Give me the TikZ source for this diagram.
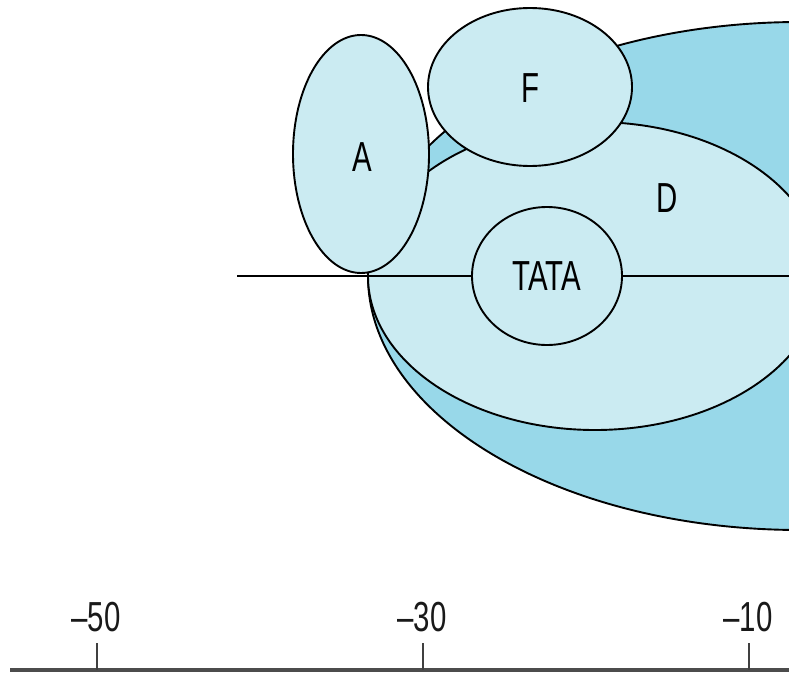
\documentclass[tikz,border=0pt]{standalone}
\usepackage{fontspec}
\newfontfamily\labfont[FakeStretch=0.7]{Liberation Sans}
\usetikzlibrary{shapes.geometric}
\definecolor{lightb}{RGB}{203,235,242}
\definecolor{darkb}{RGB}{152,216,233}
\tikzset{
  blob/.style={ellipse, draw=black, line width=1.9pt, inner sep=0pt, outer sep=0pt},
  lbl/.style={font=\labfont\fontsize{42}{50}\selectfont, inner sep=0pt, text=black},
  numlbl/.style={font=\labfont\fontsize{42}{50}\selectfont, inner sep=0pt, text=black!90},
}
\begin{document}
\begin{tikzpicture}[x=1pt,y=-1pt]
\useasboundingbox (0,0) rectangle (789,674);
\clip (0,0) rectangle (789,674);
% large outer ellipse
\node[blob, fill=darkb, minimum width=864pt, minimum height=508pt] (big) at (800,276) {};
% D
\node[blob, fill=lightb, minimum width=454pt, minimum height=308pt] (D) at (595,276) {};
\node[lbl] (Dl) at (667,198) {D};
% horizontal line
\coordinate (ls) at (237,276);
\coordinate (le) at (795,276);
\draw[line width=1.9pt] (ls) -- (le);
% TATA
\node[blob, fill=lightb, minimum width=150pt, minimum height=138pt, lbl, font=\labfont\fontsize{42}{50}\selectfont] (T) at (547,276) {TATA};
% A
\node[blob, fill=lightb, minimum width=136pt, minimum height=238pt] (A) at (361,154) {};
\node[lbl] (Al) at (362,157) {A};
% F
\node[blob, fill=lightb, minimum width=204pt, minimum height=158pt] (F) at (530,87) {};
\node[lbl] (Fl) at (530,88) {F};
% axis
\coordinate (axL) at (10,670);
\coordinate (axR) at (795,670);
\draw[line width=3.2pt, black!70] (axL) -- (axR);
\foreach \x/\t/\n in {97/{–50}/a, 423/{–30}/b, 749/{–10}/c}{
  \coordinate (tk\n) at (\x,643);
  \coordinate (tb\n) at (\x,670);
  \draw[line width=1.5pt, black!75] (tk\n) -- (tb\n);
  \node[numlbl] (num\n) at (\x-1,617) {\t};
}
\end{tikzpicture}
\end{document}
